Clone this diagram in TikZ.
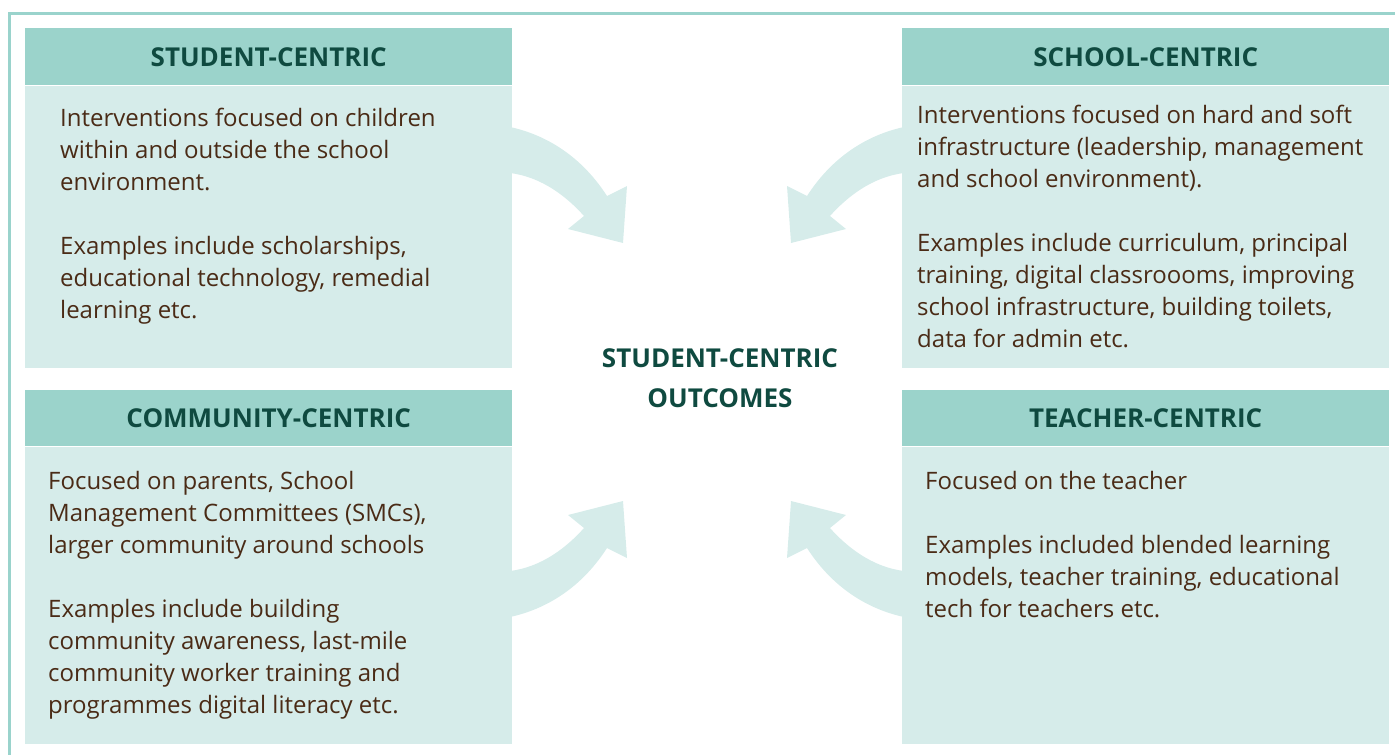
\documentclass[tikz,border=0pt]{standalone}
\usepackage{fontspec}
\setmainfont{Open Sans}
\usetikzlibrary{positioning}

\definecolor{frameline}{HTML}{9AD3CC}
\definecolor{headfill}{HTML}{9BD3CB}
\definecolor{bodyfill}{HTML}{D6ECEA}
\definecolor{headtext}{HTML}{0F4A40}
\definecolor{bodytext}{HTML}{4A2B16}

\tikzset{
  headbox/.style={fill=headfill, minimum width=487pt, minimum height=57pt, inner sep=0pt, text height=18.6pt, text depth=0pt, anchor=north west, text=headtext, font=\fontsize{26}{30}\selectfont\bfseries},
  bodybox/.style={fill=bodyfill, minimum width=487pt, inner sep=0pt},
  bodytxt/.style={anchor=north west, inner sep=0pt, align=left, text=bodytext, font=\fontsize{24}{32}\selectfont},
  bigarrow/.pic={
    \fill[bodyfill] (-197,-245) .. controls (-160,-237) and (-125,-215) .. (-100,-176)
      -- (-80,-186) -- (-84,-129) -- (-139,-143) -- (-123,-156)
      .. controls (-140,-175) and (-165,-195) .. (-197,-199) -- cycle;
  }
}

\begin{document}
\begin{tikzpicture}[x=1pt, y=-1pt]
  \useasboundingbox (0,0) rectangle (1395,755);
  \draw[frameline, line width=3pt] (9,755) -- (9,13) -- (1395,13);

  % curved arrows towards the centre
  \pic at (707,372) {bigarrow};
  \pic[xscale=-1] at (707,372) {bigarrow};
  \pic[yscale=-1] at (707,372) {bigarrow};
  \pic[xscale=-1, yscale=-1] at (707,372) {bigarrow};

  % student-centric
  \node[headbox] (stuHead) at (25,28) {STUDENT-CENTRIC};
  \node[bodybox, below=0pt of stuHead, minimum height=282pt] (stuBody) {};
  \node[bodytxt] (stuText) at (60,108) {Interventions focused on children\\within and outside the school\\environment.\\[32pt]Examples include scholarships,\\educational technology, remedial\\learning etc.};

  % school-centric
  \node[headbox] (schHead) at (902,28) {SCHOOL-CENTRIC};
  \node[bodybox, below=0pt of schHead, minimum height=282pt] (schBody) {};
  \node[bodytxt] (schText) at (917,105) {Interventions focused on hard and soft\\infrastructure (leadership, management\\and school environment).\\[32pt]Examples include curriculum, principal\\training, digital classroooms, improving\\school infrastructure, building toilets,\\data for admin etc.};

  % community-centric
  \node[headbox, minimum height=56pt] (comHead) at (25,390) {COMMUNITY-CENTRIC};
  \node[bodybox, below=0pt of comHead, minimum height=297pt] (comBody) {};
  \node[bodytxt] (comText) at (48,471) {Focused on parents, School\\Management Committees (SMCs),\\larger community around schools\\[32pt]Examples include building\\community awareness, last-mile\\community worker training and\\programmes digital literacy etc.};

  % teacher-centric
  \node[headbox, minimum height=56pt] (teaHead) at (902,390) {TEACHER-CENTRIC};
  \node[bodybox, below=0pt of teaHead, minimum height=297pt] (teaBody) {};
  \node[bodytxt] (teaText) at (925,471) {Focused on the teacher\\[32pt]Examples included blended learning\\models, teacher training, educational\\tech for teachers etc.};

  % outcome in the middle
  \node[align=center, text=headtext, font=\fontsize{26}{40}\selectfont\bfseries] (outcome) at (720,378) {STUDENT-CENTRIC\\OUTCOMES};
\end{tikzpicture}
\end{document}
